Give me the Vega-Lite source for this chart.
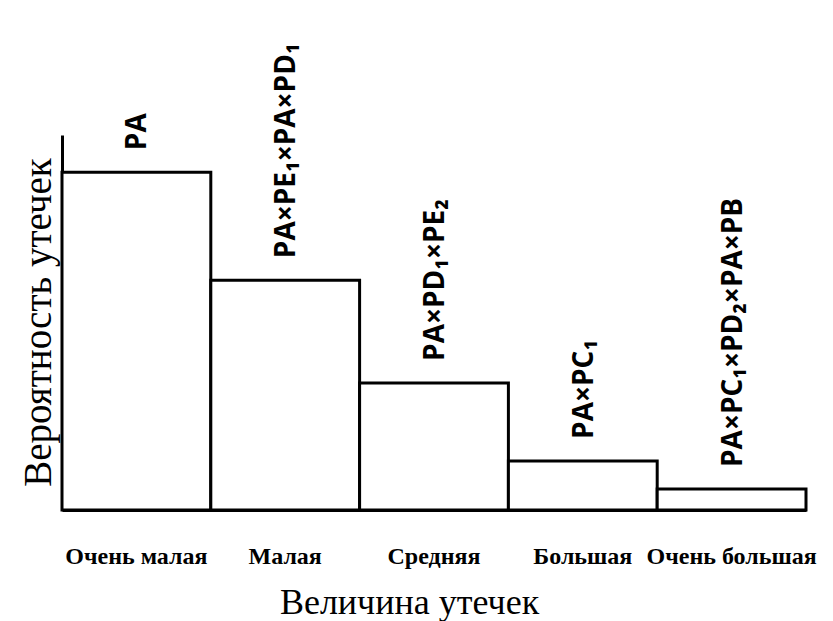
{
  "$schema": "https://vega.github.io/schema/vega-lite/v6.json",
  "width": 744,
  "height": 375,
  "autosize": {"type": "none"},
  "padding": {"left": 62, "top": 135, "right": 27, "bottom": 111},
  "background": "white",
  "data": {
    "values": [
      {"cat": "Очень малая", "p": 90.1, "label": "PA"},
      {"cat": "Малая", "p": 61.3, "label": "PA×PE₁×PA×PD₁"},
      {"cat": "Средняя", "p": 33.9, "label": "PA×PD₁×PE₂"},
      {"cat": "Большая", "p": 13.1, "label": "PA×PC₁"},
      {"cat": "Очень большая", "p": 5.6, "label": "PA×PC₁×PD₂×PA×PB"}
    ]
  },
  "config": {"view": {"stroke": null}},
  "encoding": {
    "x": {
      "field": "cat", "type": "nominal", "sort": null,
      "scale": {"paddingInner": 0, "paddingOuter": 0},
      "axis": {
        "title": "Величина утечек", "labelAngle": 0, "ticks": false,
        "domainColor": "black", "domainWidth": 3,
        "labelFont": "Liberation Serif", "labelFontWeight": "bold", "labelFontSize": 24, "labelColor": "black",
        "labelBaseline": "alphabetic", "labelPadding": 53,
        "titleFont": "Liberation Serif", "titleFontWeight": "normal", "titleFontSize": 36, "titleColor": "black",
        "titleBaseline": "alphabetic", "titleAlign": "center", "titleAnchor": null,
        "titleX": 347, "titleY": 103
      }
    },
    "y": {
      "field": "p", "type": "quantitative",
      "scale": {"domain": [0, 100]},
      "axis": {
        "title": "Вероятность утечек", "ticks": false, "labels": false, "grid": false,
        "domainColor": "black", "domainWidth": 3,
        "titleFont": "Liberation Serif", "titleFontWeight": "normal", "titleFontSize": 39, "titleColor": "black",
        "titleAngle": 270, "titleBaseline": "alphabetic", "titleAlign": "center",
        "titleX": -12, "titleY": 187
      }
    }
  },
  "layer": [
    {"mark": {"type": "bar", "fill": "white", "stroke": "black", "strokeWidth": 3}},
    {
      "mark": {"type": "text", "angle": 270, "align": "left", "baseline": "middle", "dx": 22, "dy": 2,
               "font": "Open Sans", "fontWeight": "bold", "fontSize": 28, "color": "black"},
      "encoding": {"text": {"field": "label"}}
    }
  ]
}
